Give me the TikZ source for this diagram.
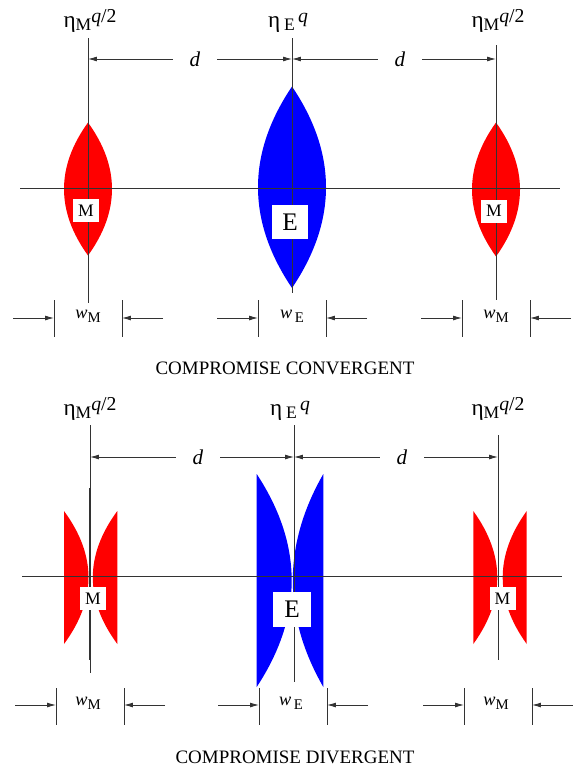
\documentclass[tikz,border=0pt]{standalone}
\usepackage{fontspec}
\setmainfont{Liberation Serif}
\usetikzlibrary{arrows.meta}

% half of a lens: straight side at x=#1 from y=#2 to y=#3, bulge #4
\newcommand{\halflens}[5]{%
  \fill[#5] (#1,#2) .. controls ({#1+4*(#4)/3},{#2+(#3-#2)/3}) and ({#1+4*(#4)/3},{#3-(#3-#2)/3}) .. (#1,#3) -- cycle;}
\newcommand{\etaM}{η\raisebox{-2.8pt}{\fontsize{12.5}{14}\selectfont M}\raisebox{3.2pt}{\fontsize{14}{16}\selectfont\itshape q\/\upshape/2}}
\newcommand{\etaE}{η\,\raisebox{-2.8pt}{\fontsize{12.5}{14}\selectfont E}\raisebox{3.2pt}{\fontsize{14}{16}\selectfont\itshape\,q}}
\newcommand{\wsub}[1]{\textit{w}\raisebox{-3pt}{\fontsize{10.5}{12}\selectfont #1}}

\begin{document}
\begin{tikzpicture}[x=0.25mm,y=-0.25mm,>={Latex[length=2.2mm,width=1.2mm]},
  ln/.style={line width=0.6pt,black!80},
  eta/.style={anchor=base,inner sep=0pt,font=\fontsize{16.5}{19}\selectfont},
  dlab/.style={inner xsep=12pt,inner ysep=0pt,font=\fontsize{15}{17}\selectfont\itshape},
  wlab/.style={anchor=base,inner sep=0pt,font=\fontsize{13}{15}\selectfont},
  captext/.style={font=\fontsize{13.5}{16}\selectfont},
  mbox/.style={fill=white,inner sep=0pt,minimum width=6.5mm,minimum height=5.75mm,font=\fontsize{12.5}{14}\selectfont},
  ebox/.style={fill=white,inner sep=0pt,minimum width=9mm,minimum height=8.5mm,font=\fontsize{18}{20}\selectfont}]
\useasboundingbox (0,0) rectangle (572,768);

% ---- convergent ----
\halflens{88}{122.5}{255.5}{-24}{red}
\halflens{88}{122.5}{255.5}{24}{red}
\halflens{292}{86.5}{288}{-34}{blue}
\halflens{292}{86.5}{288}{34}{blue}
\halflens{496}{122.5}{256.5}{-24}{red}
\halflens{496}{122.5}{256.5}{24}{red}
\draw[ln] (20,188) -- (560,188);
\draw[ln] (88,38) -- (88,303);
\draw[ln] (292,38) -- (292,293);
\draw[ln] (496,45) -- (496,300);

\node[eta] (etaCL) at (90,27) {\etaM};
\node[eta] (etaCE) at (288,27) {\etaE};
\node[eta] (etaCR) at (498,27) {\etaM};

\coordinate (cL) at (88,59);
\coordinate (cE) at (292,59);
\coordinate (cR) at (496,59);
\node[dlab] (dC1) at (195,59) {d};
\node[dlab] (dC2) at (400,59) {d};
\draw[ln,->] (dC1) -- (cL);
\draw[ln,->] (dC1) -- (cE);
\draw[ln,->] (dC2) -- (cE);
\draw[ln,->] (dC2) -- (cR);

\foreach \cx/\s in {88/M,292/{\,E},496/M}{
  \draw[ln] (\cx-34,300) -- (\cx-34,337);
  \draw[ln] (\cx+34,300) -- (\cx+34,337);
  \draw[ln,->] (\cx-75,318) -- (\cx-34,318);
  \draw[ln,->] (\cx+75,318) -- (\cx+34,318);
  \node[wlab] (wC\cx) at (\cx,318) {\wsub{\s}};
}

\node[mbox] (mCL) at (86,210.5) {M};
\node[ebox] (eC) at (290,222) {E};
\node[mbox] (mCR) at (494,211) {M};
\node[captext] (capC) at (285,368.5) {COMPROMISE CONVERGENT};

% ---- divergent ----
\halflens{64}{511}{644}{24.5}{red}
\halflens{117.3}{511}{644}{-24.5}{red}
\halflens{256.7}{474}{687}{35}{blue}
\halflens{323.3}{474}{687}{-30.5}{blue}
\halflens{473.3}{511}{644}{24}{red}
\halflens{526.7}{511}{644}{-24}{red}
\draw[ln] (22,576) -- (562,576);
\draw[ln] (90,425) -- (90,673);
\draw[line width=0.9pt,black!80] (90,488) -- (90,660);
\draw[ln] (294,425) -- (294,682);
\draw[ln] (498,435) -- (498,660);

\node[eta] (etaDL) at (90,415) {\etaM};
\node[eta] (etaDE) at (290,415) {\etaE};
\node[eta] (etaDR) at (498,415) {\etaM};

\coordinate (vL) at (90,457);
\coordinate (vE) at (294,457);
\coordinate (vR) at (498,457);
\node[dlab] (dD1) at (198,457) {d};
\node[dlab] (dD2) at (402,457) {d};
\draw[ln,->] (dD1) -- (vL);
\draw[ln,->] (dD1) -- (vE);
\draw[ln,->] (dD2) -- (vE);
\draw[ln,->] (dD2) -- (vR);

\foreach \cx/\s in {90/M,293/{\,E},498/M}{
  \draw[ln] (\cx-34,688) -- (\cx-34,725);
  \draw[ln] (\cx+34,688) -- (\cx+34,725);
  \draw[ln,->] (\cx-75,705) -- (\cx-34,705);
  \draw[ln,->] (\cx+75,705) -- (\cx+34,705);
  \node[wlab] (wD\cx) at (\cx-2,705) {\wsub{\s}};
}

\node[mbox] (mDL) at (93,598.5) {M};
\node[ebox,minimum width=9.5mm,minimum height=8.75mm] (eD) at (292,609) {E};
\node[mbox] (mDR) at (502.5,598.5) {M};
\node[captext] (capD) at (295,757.5) {COMPROMISE DIVERGENT};
\end{tikzpicture}
\end{document}
